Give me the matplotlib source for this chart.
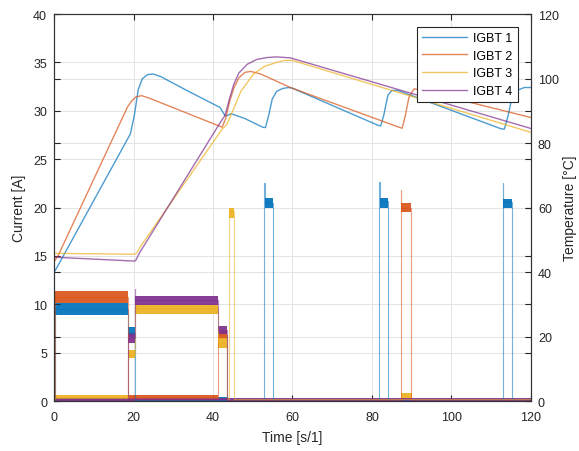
import numpy as np
import matplotlib
matplotlib.use("Agg")
import matplotlib.pyplot as plt
from matplotlib.ticker import FixedLocator

plt.rcParams["font.family"] = ["Liberation Sans", "DejaVu Sans"]

names = ["IGBT 1", "IGBT 2", "IGBT 3", "IGBT 4"]
colors = ["#0072BD", "#D95319", "#EDB120", "#7E2F8E"]

# temperature curves (right axis, degC), breakpoints
temp1_t = [0, 1, 19.2, 20.2, 21.2, 22.2, 23.5, 25, 27, 33.4, 41.8, 43.0, 43.6, 44.5, 48, 52.5,
           53.2, 54.0, 54.9, 56.0, 57.5, 59, 60, 81.5, 82.2, 83.0, 84.0, 85.0, 86.5, 112.5,
           113.3, 114.2, 115.2, 116.5, 118.3, 120]
temp1 = [39.9, 42.0, 82.8, 88.5, 96.6, 99.9, 101.2, 101.4, 100.5, 96.3, 91.0, 88.5, 88.5, 89.1,
         87.6, 84.9, 84.8, 88.5, 93.6, 96.0, 96.9, 97.2, 97.0, 85.5, 85.3, 88.8, 94.8, 96.3,
         96.3, 84.4, 84.3, 88.2, 93.9, 96.3, 97.2, 97.2]
temp2_t = [0, 1, 18.5, 19.5, 20.5, 22, 24, 42.3, 43.2, 44.2, 45.2, 46.5, 48, 49.5, 52, 59.5,
           87.0, 87.6, 88.4, 89.3, 90.6, 92, 120]
temp2 = [43.2, 45.0, 91.2, 93.0, 94.2, 94.7, 93.9, 84.9, 87.6, 93.0, 96.9, 100.2, 101.9, 102.2,
         101.4, 97.2, 84.8, 84.6, 88.5, 94.2, 96.8, 96.5, 87.9]
temp3_t = [0, 20.2, 20.8, 21.8, 42.3, 43.5, 45.2, 47, 50.2, 53, 56, 58, 60, 120]
temp3 = [45.8, 45.5, 45.9, 48.0, 84.3, 85.8, 90.6, 96.0, 101.4, 103.8, 105.0, 105.6, 105.6, 83.3]
temp4_t = [0, 20.0, 20.5, 21.5, 42.0, 43.0, 44.2, 45.2, 46.5, 48.6, 51, 53.6, 56, 59.5, 120]
temp4 = [44.6, 43.4, 43.5, 45.9, 86.7, 88.5, 93.9, 98.1, 101.7, 104.4, 105.9, 106.5, 106.7,
         106.4, 84.5]

# current step signals (left axis, A)
cur1_t = [0, 0.15, 18.6, 20.3, 52.9, 53.0, 55.2, 81.8, 81.9, 84.0, 112.9, 113.0, 115.3, 120]
cur1 = [0, 9.5, 7.0, 0.1, 22.5, 20.5, 0.1, 22.6, 20.7, 0.1, 22.5, 20.6, 0.1, 0.1]
cur2_t = [0, 0.15, 18.6, 41.3, 43.6, 87.2, 87.3, 89.9, 120]
cur2 = [0, 10.8, 0.3, 6.8, 0.1, 21.8, 20.0, 0.1, 0.1]
cur3_t = [0, 18.7, 20.3, 41.3, 43.6, 43.95, 45.2, 120]
cur3 = [0.3, 4.8, 9.6, 6.0, 0.2, 19.6, 0.2, 0.2]
cur4_t = [0, 18.7, 20.3, 20.4, 41.3, 43.6, 120]
cur4 = [0.1, 6.5, 11.6, 10.4, 7.3, 0.1, 0.1]

# noise bands of the current signals: (t start, t end, low, high)
band1 = [(0.2, 18.6, 8.9, 10.1), (18.7, 20.3, 6.6, 7.6), (41.3, 43.8, 0.0, 0.4),
         (53.0, 55.2, 19.9, 21.0), (81.9, 84.0, 20.0, 21.0), (113.0, 115.3, 20.0, 20.9)]
band2 = [(0.2, 18.6, 10.1, 11.4), (18.6, 41.3, 0.05, 0.6), (41.3, 43.5, 6.4, 7.2),
         (87.3, 89.9, 19.5, 20.5)]
band3 = [(0.2, 18.6, 0.1, 0.6), (18.7, 20.3, 4.4, 5.3), (20.3, 41.3, 9.0, 10.0),
         (41.3, 43.5, 5.5, 6.5), (43.95, 45.2, 18.9, 20.0), (87.3, 90.0, 0.1, 0.8)]
band4 = [(0, 120, 0.0, 0.35), (18.7, 20.3, 6.0, 7.0), (20.4, 41.3, 9.9, 10.9),
         (41.3, 43.5, 6.9, 7.8)]

temps = [(temp1_t, temp1), (temp2_t, temp2), (temp3_t, temp3), (temp4_t, temp4)]
currents = [(cur1_t, cur1), (cur2_t, cur2), (cur3_t, cur3), (cur4_t, cur4)]
bands = [band1, band2, band3, band4]

fig = plt.figure(figsize=(5.79, 4.52), dpi=100)
ax = fig.add_axes([0.0933, 0.1106, 0.8237, 0.8562])
ax2 = ax.twinx()

for (t, v), bl, c in zip(currents, bands, colors):
    ax.plot(t, v, drawstyle="steps-post", color=c, lw=0.8, alpha=0.55)
    for t0, t1, lo, hi in bl:
        ax.fill_between([t0, t1], [lo, lo], [hi, hi], color=c, lw=0, alpha=0.92)

lines = []
for (t, v), c, n in zip(temps, colors, names):
    ln, = ax2.plot(t, v, color=c, lw=1.0, alpha=0.7, label=n)
    lines.append(ln)

ax.set_xlim(0, 120)
ax.set_ylim(0, 40)
ax2.set_ylim(0, 120)
ax.set_xticks(np.arange(0, 121, 20))
ax.set_yticks(np.arange(0, 41, 5))
ax2.set_yticks(np.arange(0, 121, 20))
# ticks of the other y axis, mirrored on each side (as in the original)
ax.yaxis.set_minor_locator(FixedLocator(np.arange(0, 121, 20) / 3))
ax2.yaxis.set_minor_locator(FixedLocator(np.arange(0, 41, 5) * 3))

ax.grid(True, which="both", color="#e3e3e3", lw=0.7)
ax.set_axisbelow(True)
ax.tick_params(which="both", direction="in", length=4, top=True, right=True,
               labelsize=9, colors="#262626", pad=5)
ax.tick_params(axis="x", pad=7)
ax2.tick_params(which="both", direction="in", length=4, left=True,
                labelsize=9, colors="#262626", pad=5)
for a in (ax, ax2):
    for s in a.spines.values():
        s.set_color("#333333")
        s.set_linewidth(0.8)

ax.set_xlabel("Time [s/1]", fontsize=10, color="#262626", labelpad=5)
ax.set_ylabel("Current [A]", fontsize=10, color="#262626", labelpad=5)
ax2.set_ylabel("Temperature [\u00b0C]", fontsize=10, color="#262626", labelpad=3)

leg = ax2.legend(handles=lines, loc="upper right", bbox_to_anchor=(0.985, 0.982),
                 fontsize=9, handlelength=3.6, handletextpad=0.5, labelspacing=0.45,
                 borderpad=0.4, fancybox=False, framealpha=1, edgecolor="#262626")
leg.get_frame().set_linewidth(0.8)

fig.savefig("out.png", dpi=100, facecolor="white")
